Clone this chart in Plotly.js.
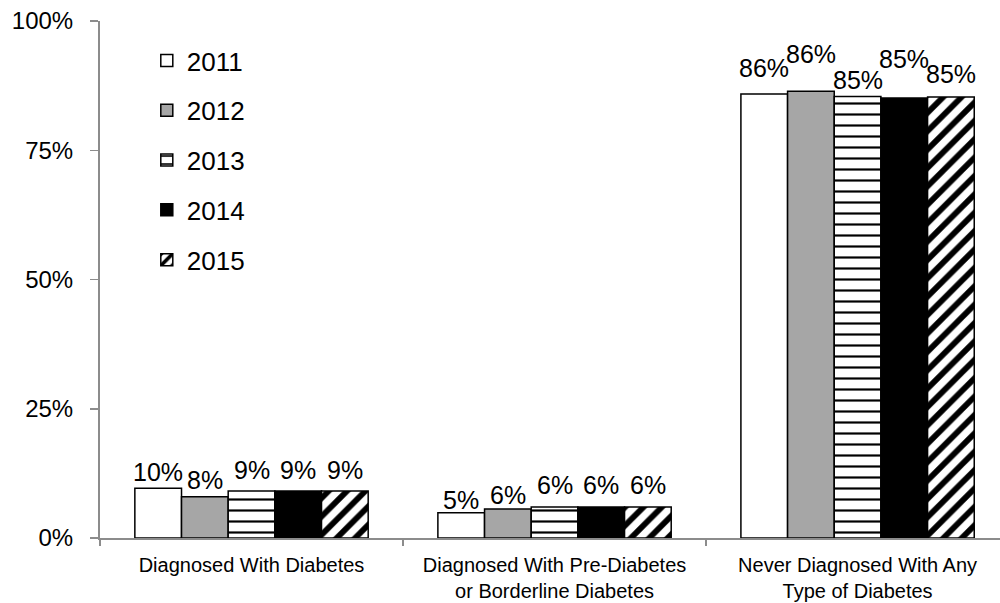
<!DOCTYPE html>
<html>
<head>
<meta charset="utf-8">
<script src="https://cdn.plot.ly/plotly-3.0.1.min.js"></script>
<style>html,body{margin:0;padding:0;background:#fff;}#chart{width:1000px;height:603px;}</style>
</head>
<body>
<div id="chart"></div>
<script>
const categories = ['Diagnosed With Diabetes', 'Diagnosed With Pre-Diabetes<br>or Borderline Diabetes', 'Never Diagnosed With Any<br>Type of Diabetes'];
const years = ['2011', '2012', '2013', '2014', '2015'];
const v2011 = [9.6, 4.9, 85.9];
const v2012 = [8.0, 5.6, 86.4];
const v2013 = [9.1, 6.0, 85.4];
const v2014 = [9.1, 6.0, 85.1];
const v2015 = [9.1, 6.0, 85.3];
const yTicks = [0, 25, 50, 75, 100];

const seriesValues = [v2011, v2012, v2013, v2014, v2015];

// style: vertical nudge (px) of each value label above its bar, per series per category
const labelNudge = [
  [16, 13, 26],
  [17, 14, 37],
  [21, 22, 16],
  [21, 22, 39],
  [21, 22, 23]
];
const styles = [
  {color: '#ffffff', pattern: {shape: ''}},
  {color: '#a6a6a6', pattern: {shape: ''}},
  {color: '#ffffff', pattern: {shape: '-', fgcolor: '#000000', bgcolor: '#ffffff', size: 11, solidity: 0.2, fillmode: 'replace'}},
  {color: '#000000', pattern: {shape: ''}},
  {color: '#ffffff', pattern: {shape: '/', fgcolor: '#000000', bgcolor: '#ffffff', size: 13, solidity: 0.45, fillmode: 'replace'}}
];

const bargap = 0.23;
const nSeries = years.length;
const barW = (1 - bargap) / nSeries;

const traces = years.map((yr, i) => ({
  type: 'bar',
  name: yr,
  legendgroup: yr,
  x: categories,
  y: seriesValues[i],
  marker: {color: styles[i].color, pattern: styles[i].pattern, line: {color: '#000000', width: 1.5}},
  hoverinfo: 'skip'
}));

const annotations = [];
years.forEach((yr, i) => {
  seriesValues[i].forEach((v, c) => {
    annotations.push({
      xref: 'x', yref: 'y',
      x: c + (i - (nSeries - 1) / 2) * barW,
      y: v,
      text: Math.round(v) + '%',
      showarrow: false,
      yanchor: 'middle',
      yshift: labelNudge[i][c],
      font: {size: 25, color: '#000000', family: 'Liberation Sans, Arial, sans-serif'}
    });
  });
});

const layout = {
  width: 1000, height: 603, autosize: false,
  margin: {l: 100, r: 0, t: 21, b: 65},
  paper_bgcolor: '#ffffff', plot_bgcolor: '#ffffff',
  font: {family: 'Liberation Sans, Arial, sans-serif', color: '#000000'},
  barmode: 'group', bargap: bargap, bargroupgap: 0,
  showlegend: true,
  legend: {x: 0.052, y: 0.969, xanchor: 'left', yanchor: 'top', font: {size: 26}, tracegroupgap: 13, bgcolor: 'rgba(0,0,0,0)'},
  annotations: annotations,
  xaxis: {
    type: 'category', range: [-0.5, 2.47],
    showline: true, linecolor: '#8c8c8c', linewidth: 2,
    ticks: 'outside', tickson: 'boundaries', ticklen: 6, tickcolor: '#8c8c8c', tickwidth: 1.5,
    tickfont: {size: 20}, ticklabelstandoff: 8, showgrid: false, zeroline: false
  },
  yaxis: {
    range: [0, 100], tickvals: yTicks, ticktext: yTicks.map(v => v + '%'),
    showline: true, linecolor: '#8c8c8c', linewidth: 2,
    ticks: 'outside', ticklen: 8, tickcolor: '#8c8c8c', tickwidth: 1.5,
    tickfont: {size: 24}, ticklabelstandoff: 12,
    showgrid: false, zeroline: false
  }
};

Plotly.newPlot('chart', traces, layout, {staticPlot: true, displayModeBar: false});
</script>
</body>
</html>
